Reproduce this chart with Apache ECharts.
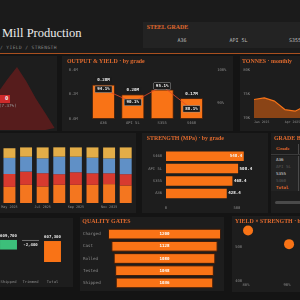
<!DOCTYPE html>
<html>
<head>
<meta charset="UTF-8">
<title>Mill Production</title>
<script src="https://cdn.jsdelivr.net/npm/echarts@6/dist/echarts.min.js"></script>
<style>
  html, body { margin: 0; padding: 0; background: #141414; overflow: hidden; }
  #page { position: relative; width: 300px; height: 300px; overflow: hidden; background: #141414; }
  #header { position: absolute; left: 0; top: 0; width: 300px; height: 53px; background: #1b1b1b; }
  #rule { position: absolute; left: 0; top: 53px; width: 300px; height: 1px; background: #a9501f; }
  #title { position: absolute; left: 2px; top: 25px; font: 12.5px/16px 'Liberation Serif', serif; color: #ececec; white-space: nowrap; }
  #subtitle { position: absolute; left: 0; top: 45px; font: 4.5px/5px 'DejaVu Sans Mono', monospace; letter-spacing: 0.45px; color: #8a8a8a; white-space: nowrap; }
  .panel { position: absolute; background: #1d1d1d; overflow: hidden; }
  .chart { position: absolute; left: 0; top: 0; width: 100%; height: 100%; }
  .ptitle { position: absolute; font: bold 5.9px/7px 'Liberation Serif', serif; color: #e06a2e; white-space: nowrap; z-index: 2; }
  #gradePick { position: absolute; left: 143px; top: 22px; width: 170px; height: 26px; background: #232323; }
  #gradeButtons { position: absolute; left: 10.75px; top: 15px; display: flex; }
  #gradeButtons div { width: 56.5px; text-align: center; font: 5px/6px 'DejaVu Sans Mono', monospace; color: #bdbdbd; }
  #kpiValue { position: absolute; left: 0; top: 95px; height: 7.5px; padding: 0 1.5px 0 5px; background: #cf2a2a; color: #f4f4f4; font: bold 5.5px/7.5px 'DejaVu Sans Mono', monospace; z-index: 3; }
  #kpiShare { position: absolute; left: -1px; top: 103px; color: #9a9a9a; font: 4.2px/5px 'DejaVu Sans Mono', monospace; z-index: 3; white-space: nowrap; }
  #gradeTable { position: absolute; left: 0; top: 11px; width: 80px; }
  .trow { display: flex; height: 7px; font: 4.2px/7px 'DejaVu Sans Mono', monospace; color: #dcdcdc; background: #232323; }
  .trow .c1 { width: 22px; padding-left: 5px; }
  .trow .c2 { border-left: 1px solid #4a4a4a; padding-left: 3px; }
  .trow.head { height: 10px; line-height: 10px; background: #1d1d1d; border-bottom: 1px solid #3a3a3a; margin-bottom: 1px; color: #e06a2e; font: bold 5px/10px 'Liberation Serif', serif; }
  .trow.dim { color: #5a5a5a; }
  .trow.total { color: #e06a2e; font-weight: bold; }
  #scrollbar { position: absolute; left: 4px; top: 68px; width: 70px; height: 3px; border-radius: 2px; background: #4a4a4a; }
</style>
</head>
<body>
<div id="page">
  <div id="header">
    <div id="title">Mill Production</div>
    <div id="subtitle">/ YIELD / STRENGTH</div>
    <div id="gradePick">
      <div class="ptitle" style="left:3.7px;top:1.5px;">STEEL GRADE</div>
      <div id="gradeButtons"></div>
    </div>
  </div>
  <div id="rule"></div>

  <div class="panel" style="left:-40px;top:56px;width:97px;height:75px;"><div id="sparkChart" class="chart"></div></div>
  <div id="kpiValue">0</div>
  <div id="kpiShare"></div>

  <div class="panel" style="left:62px;top:56px;width:171px;height:75px;">
    <div class="ptitle" style="left:5px;top:1.5px;">OUTPUT &amp; YIELD · by grade</div>
    <div id="outputChart" class="chart"></div>
  </div>
  <div class="panel" style="left:240px;top:56px;width:140px;height:75px;">
    <div class="ptitle" style="left:2px;top:1.5px;">TONNES · monthly</div>
    <div id="tonnesChart" class="chart"></div>
  </div>

  <div class="panel" style="left:-90px;top:133px;width:226px;height:80px;"><div id="mixChart" class="chart"></div></div>
  <div class="panel" style="left:142px;top:133px;width:126px;height:80px;">
    <div class="ptitle" style="left:4.7px;top:1.5px;">STRENGTH (MPa) · by grade</div>
    <div id="strengthChart" class="chart"></div>
  </div>
  <div class="panel" style="left:271px;top:133px;width:80px;height:80px;">
    <div class="ptitle" style="left:3px;top:1.5px;">GRADE BREAKDOWN</div>
    <div id="gradeTable"></div>
    <div id="scrollbar"></div>
  </div>

  <div class="panel" style="left:-10px;top:218px;width:83px;height:69px;"><div id="flowChart" class="chart"></div></div>
  <div class="panel" style="left:80px;top:217px;width:144px;height:74px;">
    <div class="ptitle" style="left:2.3px;top:0.5px;">QUALITY GATES</div>
    <div id="gatesChart" class="chart"></div>
  </div>
  <div class="panel" style="left:232px;top:216px;width:190px;height:76px;">
    <div class="ptitle" style="left:3px;top:1.5px;">YIELD × STRENGTH · by grade</div>
    <div id="scatterChart" class="chart"></div>
  </div>
</div>

<script>
  // grade level figures
  var grades = ['A36', 'API 5L', 'S355', 'S460'];
  var gradeOutputM = [0.28, 0.20, 0.24, 0.17];
  var gradeYield = [94.1, 90.1, 95.1, 88.1];
  var gradeStrength = [428.4, 508.4, 468.4, 548.4];
  var gradeTonnes = ['277,900', '191,600', '244,900', '157,827'];

  // monthly figures
  var months = ['Jan 2025', 'Feb 2025', 'Mar 2025', 'Apr 2025', 'May 2025', 'Jun 2025',
                'Jul 2025', 'Aug 2025', 'Sep 2025', 'Oct 2025', 'Nov 2025', 'Dec 2025'];
  var monthlyTonnes = [73851, 74182, 73520, 71754, 71420, 72500, 72500, 72600, 72500, 72500, 72400, 72500];
  var mixA36   = [23600, 23900, 23100, 22300, 21000, 23700, 21600, 23800, 23700, 23700, 24600, 22900];
  var mixApi5L = [16500, 16600, 16700, 16200, 16800, 17300, 17300, 13800, 16400, 15100, 14200, 14700];
  var mixS355  = [20700, 20500, 20400, 19900, 21000, 19400, 19400, 22900, 20300, 20300, 19400, 20700];
  var mixS460  = [13051, 13182, 13320, 13354, 12620, 12100, 14200, 12100, 12100, 13400, 14200, 14200];

  // loss profile (sparkline behind the kpi)
  var sparkValues = [0, 19, 41, 60, 81, 100, 77, 50, 27, 3];
  var scrapShare = '(7.37%)';

  // quality gates
  var gateNames = ['Charged', 'Cast', 'Rolled', 'Tested', 'Shipped'];
  var gateCounts = [1200, 1128, 1080, 1048, 1036];

  // tonnage bridge
  var flowSteps = ['Shipped', 'Trimmed', 'Total'];
  var flowFrom = [588100, 609700, null];
  var flowTo = [609700, 607300, 607300];

  var MONO = 'DejaVu Sans Mono';
  var GREY = '#8c8c8c';
  var ORANGE = '#f97316';
  var NO_LINE = { show: false };

  function axisText(size) {
    return { color: GREY, fontSize: size || 3.8, fontFamily: MONO };
  }
  function fmt(n) { return n.toLocaleString('en-US'); }

  // html bits built from the arrays
  document.getElementById('gradeButtons').innerHTML = grades.map(function (g) { return '<div>' + g + '</div>'; }).join('');
  document.getElementById('kpiShare').textContent = scrapShare;
  var rows = '<div class="trow head"><div class="c1">Grade</div><div class="c2">Tonnes</div></div>';
  grades.forEach(function (g, i) {
    rows += '<div class="trow' + (i % 2 ? ' dim' : '') + '"><div class="c1">' + g + '</div><div class="c2">' + gradeTonnes[i] + '</div></div>';
  });
  rows += '<div class="trow total"><div class="c1">Total</div><div class="c2">872,227</div></div>';
  document.getElementById('gradeTable').innerHTML = rows;

  // ---- loss sparkline
  var sparkChart = echarts.init(document.getElementById('sparkChart'));
  sparkChart.setOption({
    animation: false,
    grid: { left: 10, right: 2.4, top: 11, bottom: 1 },
    xAxis: { type: 'category', boundaryGap: false, show: false, data: sparkValues.map(function (v, i) { return i; }) },
    yAxis: { type: 'value', min: 0, max: 100, show: false },
    series: [{
      type: 'line', data: sparkValues, symbol: 'none',
      lineStyle: { width: 0, opacity: 0 },
      areaStyle: { color: '#561c1c', opacity: 1 }
    }]
  });

  // ---- output & yield
  var outputChart = echarts.init(document.getElementById('outputChart'));
  outputChart.setOption({
    animation: false,
    grid: { left: 26.8, right: 26.8, top: 14, bottom: 12 },
    xAxis: {
      type: 'category', data: grades,
      axisLine: NO_LINE, axisTick: NO_LINE,
      axisLabel: Object.assign(axisText(), { margin: 2.5, interval: 0 })
    },
    yAxis: [{
      type: 'value', min: 0, max: 0.4, interval: 0.2,
      splitLine: NO_LINE, axisLine: NO_LINE, axisTick: NO_LINE,
      axisLabel: Object.assign(axisText(), { margin: 11, formatter: function (v) { return v.toFixed(1) + 'M'; } })
    }, {
      type: 'value', min: 85, max: 100, interval: 5,
      splitLine: NO_LINE, axisLine: NO_LINE, axisTick: NO_LINE,
      axisLabel: Object.assign(axisText(), { margin: 11, formatter: function (v) { return v % 10 === 0 ? v + '%' : ''; } })
    }],
    series: [{
      type: 'bar', data: gradeOutputM, barWidth: '78%',
      itemStyle: { color: ORANGE, borderColor: '#3a1c0c', borderWidth: 0.8 },
      label: {
        show: true, position: 'top', distance: 1.5,
        formatter: function (p) { return p.value.toFixed(2) + 'M'; },
        color: '#eeeeee', fontSize: 4.2, fontWeight: 'bold', fontFamily: MONO,
        backgroundColor: '#1b1b1b', padding: [1, 2]
      }
    }, {
      type: 'line', yAxisIndex: 1, data: gradeYield,
      symbol: 'circle', symbolSize: 2,
      itemStyle: { color: '#e2482a' },
      lineStyle: { color: '#e2482a', width: 0.8 },
      label: {
        show: true, position: 'inside',
        formatter: function (p) { return p.value.toFixed(1) + '%'; },
        color: '#eeeeee', fontSize: 4.2, fontWeight: 'bold', fontFamily: MONO,
        backgroundColor: '#1b1b1b', borderColor: '#9a9a9a', borderWidth: 0.5, padding: [1, 2]
      }
    }]
  });

  // ---- tonnes monthly (labels only on the first points, nudged like the original)
  var tonnesLabelAt = {
    0: { position: 'bottom', offset: [10, -1] },
    1: { position: 'top', offset: [6, 0] },
    3: { position: 'bottom', offset: [2, -2] }
  };
  var tonnesChart = echarts.init(document.getElementById('tonnesChart'));
  tonnesChart.setOption({
    animation: false,
    grid: { left: 14, right: 13, top: 14, bottom: 13 },
    xAxis: {
      type: 'category', boundaryGap: false, data: months,
      axisLine: NO_LINE, axisTick: NO_LINE,
      axisLabel: Object.assign(axisText(3.2), { margin: 2.5, interval: 2, align: 'left' })
    },
    yAxis: {
      type: 'value', min: 70000, max: 80000, interval: 5000,
      splitLine: NO_LINE, axisLine: NO_LINE, axisTick: NO_LINE,
      axisLabel: Object.assign(axisText(), { margin: 4, formatter: function (v) { return v / 1000 + 'K'; } })
    },
    series: [{
      type: 'line', symbol: 'none',
      data: monthlyTonnes.map(function (v, i) {
        var at = tonnesLabelAt[i];
        return { value: v, label: at ? Object.assign({ show: true }, at) : { show: false } };
      }),
      lineStyle: { color: ORANGE, width: 1.2 },
      areaStyle: { color: '#8a4416', opacity: 1 },
      label: {
        show: true, distance: 2,
        formatter: function (p) { return fmt(p.value); },
        color: '#f0f0f0', fontSize: 4.2, fontWeight: 'bold', fontFamily: MONO
      }
    }]
  });

  // ---- monthly grade mix (stacked)
  var mixSeries = [
    { name: 'A36', data: mixA36, color: '#f4761f' },
    { name: 'API 5L', data: mixApi5L, color: '#d73a2f' },
    { name: 'S355', data: mixS355, color: '#6090c6' },
    { name: 'S460', data: mixS460, color: '#e3ad48' }
  ];
  var mixChart = echarts.init(document.getElementById('mixChart'));
  mixChart.setOption({
    animation: false,
    grid: { left: 14.6, right: 2, top: 12.5, bottom: 10 },
    xAxis: {
      type: 'category', data: months,
      axisLine: NO_LINE, axisTick: NO_LINE,
      axisLabel: Object.assign(axisText(3.4), { margin: 3, interval: 1 })
    },
    yAxis: { type: 'value', min: 0, max: 75000, splitLine: NO_LINE, axisLine: NO_LINE, axisLabel: axisText() },
    series: mixSeries.map(function (s) {
      return { type: 'bar', name: s.name, stack: 'mix', data: s.data, barCategoryGap: '28%', itemStyle: { color: s.color } };
    })
  });

  // ---- strength by grade, sorted
  var order = grades.map(function (g, i) { return i; }).sort(function (a, b) { return gradeStrength[a] - gradeStrength[b]; });
  var strengthMax = Math.max.apply(null, gradeStrength);
  var strengthChart = echarts.init(document.getElementById('strengthChart'));
  strengthChart.setOption({
    animation: false,
    grid: { left: 24, right: 24, top: 17, bottom: 13.4 },
    xAxis: {
      type: 'value', min: 0, max: 550, interval: 500,
      splitLine: NO_LINE, axisLine: NO_LINE, axisTick: NO_LINE,
      axisLabel: Object.assign(axisText(), { margin: 6, showMaxLabel: false })
    },
    yAxis: {
      type: 'category', data: order.map(function (i) { return grades[i]; }),
      axisLine: NO_LINE, axisTick: NO_LINE,
      axisLabel: Object.assign(axisText(), { margin: 4, interval: 0 })
    },
    series: [{
      type: 'bar', barCategoryGap: '23%',
      data: order.map(function (i) {
        var v = gradeStrength[i];
        return { value: v, label: { position: v === strengthMax ? 'insideRight' : 'right' } };
      }),
      itemStyle: { color: ORANGE },
      label: {
        show: true, distance: 1.5,
        formatter: function (p) { return p.value.toFixed(1); },
        color: '#f2f2f2', fontSize: 4.2, fontWeight: 'bold', fontFamily: MONO
      }
    }]
  });

  // ---- tonnage bridge (waterfall)
  var flowFloor = 560000;
  var flowBase = flowTo.map(function (t, i) { return flowFrom[i] === null ? flowFloor : Math.min(flowFrom[i], t); });
  var flowChart = echarts.init(document.getElementById('flowChart'));
  flowChart.setOption({
    animation: false,
    grid: { left: 7.5, right: 9.5, top: 17.4, bottom: 25 },
    xAxis: {
      type: 'category', data: flowSteps,
      axisLine: NO_LINE, axisTick: NO_LINE,
      axisLabel: Object.assign(axisText(), { margin: 18, interval: 0 })
    },
    yAxis: { type: 'value', min: flowFloor, max: 620000, show: false },
    series: [{
      type: 'bar', stack: 'flow', data: flowBase, barWidth: '77%',
      itemStyle: { color: 'transparent' }, silent: true
    }, {
      type: 'bar', stack: 'flow',
      data: flowTo.map(function (t, i) {
        var total = flowFrom[i] === null;
        var down = !total && t < flowFrom[i];
        return {
          value: total ? t - flowFloor : Math.abs(t - flowFrom[i]),
          itemStyle: { color: total ? ORANGE : (down ? '#707070' : '#3cbf7a') },
          label: {
            position: down ? 'bottom' : 'top',
            formatter: down ? '-' + fmt(flowFrom[i] - t) : fmt(t)
          }
        };
      }),
      label: { show: true, distance: 2, color: '#e8e8e8', fontSize: 4, fontWeight: 'bold', fontFamily: MONO }
    }]
  });

  // ---- quality gates: centred bars
  var gateMax = Math.max.apply(null, gateCounts);
  var gatesChart = echarts.init(document.getElementById('gatesChart'));
  gatesChart.setOption({
    animation: false,
    grid: { left: 27, top: 11, height: 61, width: 114 },
    xAxis: { type: 'value', min: 0, max: gateMax, show: false },
    yAxis: {
      type: 'category', inverse: true, data: gateNames,
      axisLine: NO_LINE, axisTick: NO_LINE,
      axisLabel: Object.assign(axisText(4.2), { align: 'left', margin: 25, interval: 0 })
    },
    series: [{
      type: 'bar', stack: 'gate', barCategoryGap: '12%', silent: true,
      data: gateCounts.map(function (v) { return (gateMax - v) / 2; }),
      itemStyle: { color: 'transparent' }
    }, {
      type: 'bar', stack: 'gate', data: gateCounts,
      itemStyle: { color: ORANGE, borderColor: '#3a1c0c', borderWidth: 1 },
      label: { show: true, position: 'inside', color: '#ffffff', fontSize: 4.2, fontWeight: 'bold', fontFamily: MONO }
    }]
  });

  // ---- yield x strength
  var scatterChart = echarts.init(document.getElementById('scatterChart'));
  scatterChart.setOption({
    animation: false,
    grid: { left: 14, right: 12, top: 14, bottom: 11 },
    xAxis: {
      type: 'value', min: 88, max: 96, interval: 2,
      splitLine: NO_LINE, axisLine: NO_LINE, axisTick: NO_LINE,
      axisLabel: Object.assign(axisText(), { margin: 2, formatter: function (v) { return v + '%'; } })
    },
    yAxis: {
      type: 'value', min: 400, max: 550, interval: 100,
      splitLine: NO_LINE, axisLine: NO_LINE, axisTick: NO_LINE,
      axisLabel: Object.assign(axisText(), { margin: 4, showMaxLabel: false })
    },
    series: [{
      type: 'scatter', symbolSize: 10,
      data: grades.map(function (g, i) { return [gradeYield[i], gradeStrength[i], g]; }),
      itemStyle: { color: ORANGE, opacity: 1 }
    }]
  });
</script>
</body>
</html>
